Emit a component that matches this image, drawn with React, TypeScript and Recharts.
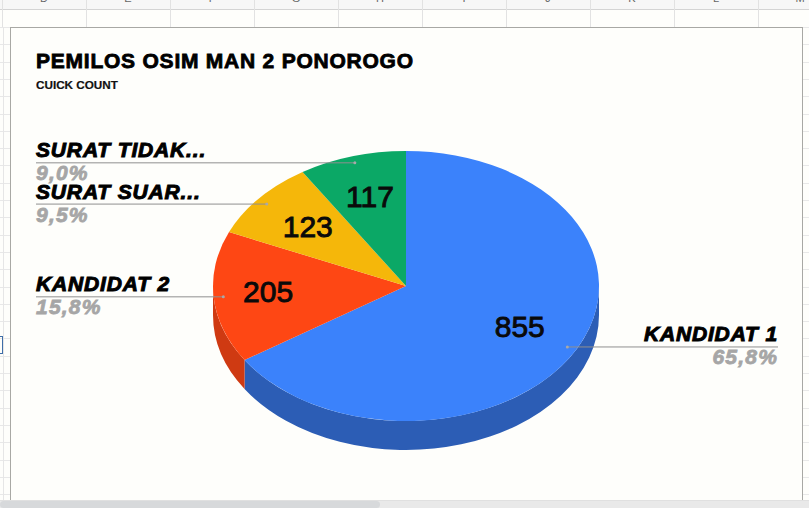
import { PieChart, Pie, Cell } from "recharts";

const names = ["KANDIDAT 1", "KANDIDAT 2", "SURAT SUAR...", "SURAT TIDAK..."];
const votes = [855, 205, 123, 117];
const topColors = ["#3b82fb", "#fe4714", "#f5b70a", "#0ba866"];
const sideColors = ["#2c5db5", "#cf3a12", "#b98a08", "#087f4d"];
const columnLetters = ["D", "E", "F", "G", "H", "I", "J", "K", "L", "M"];

const title = "PEMILOS OSIM MAN 2 PONOROGO";
const subtitle = "CUICK COUNT";

const total = votes.reduce((a, b) => a + b, 0);
const data = names.map((name, i) => ({ name, value: votes[i] }));

const FONT = "'Liberation Sans', Arial, sans-serif";
const SQUASH = 135 / 193; // top of the pie is an ellipse
const DEPTH = 29;
const RAD = Math.PI / 180;

function pt(cx: number, cy: number, r: number, deg: number) {
  return [cx + r * Math.cos(deg * RAD), cy - r * SQUASH * Math.sin(deg * RAD)];
}

function TopSlice(props: any) {
  const { cx, cy, outerRadius: r, startAngle, endAngle, fill } = props;
  const [x1, y1] = pt(cx, cy, r, startAngle);
  const [x2, y2] = pt(cx, cy, r, endAngle);
  const large = Math.abs(startAngle - endAngle) > 180 ? 1 : 0;
  const d = `M${cx},${cy} L${x1},${y1} A${r},${r * SQUASH} 0 ${large} 1 ${x2},${y2} Z`;
  return <path d={d} fill={fill} />;
}

// only the part of a slice facing the viewer gets a wall
function SideWall(props: any) {
  const { cx, cy, outerRadius: r, startAngle, endAngle, index } = props;
  const from = Math.min(startAngle, 0);
  const to = Math.max(endAngle, -180);
  if (from <= to) return null;
  const [x1, y1] = pt(cx, cy, r, from);
  const [x2, y2] = pt(cx, cy, r, to);
  const rx = r;
  const ry = r * SQUASH;
  const d = `M${x1},${y1} A${rx},${ry} 0 0 1 ${x2},${y2} L${x2},${y2 + DEPTH} A${rx},${ry} 0 0 0 ${x1},${y1 + DEPTH} Z`;
  return <path d={d} fill={sideColors[index]} />;
}

function SliceLabel(props: any) {
  const { cx, cy, outerRadius: r, midAngle, index, value } = props;
  const [vx, vy] = pt(cx, cy, r * 0.67, midAngle);
  const [dx, dyRaw] = pt(cx, cy, r * 0.95, midAngle);
  const right = index === 0;
  const edge = right ? 778 : 36;
  const pct = ((value / total) * 100).toFixed(1).replace(".", ",") + "%";
  const anchor = right ? "end" : "start";
  // the 205 sits a bit further out than the others, the yellow labels a bit lower
  const nudgeX = index === 1 ? -9 : 0;
  const nudgeY = index === 2 ? 1.5 : 0;
  const dy = dyRaw + nudgeY;
  return (
    <g fontFamily={FONT}>
      <text x={vx + nudgeX} y={vy + 8 + nudgeY} textAnchor="middle" fontSize={30} fill="#0a0a0a" stroke="#0a0a0a" strokeWidth={0.9}>
        {value}
      </text>
      <line x1={edge} y1={dy} x2={dx} y2={dy} stroke="#8f8f8f" strokeWidth={1} />
      <circle cx={dx} cy={dy} r={1.5} fill="#a9a9a9" />
      <text x={edge} y={dy - 5.5} textAnchor={anchor} fontSize={21} fontWeight={700} fontStyle="italic" letterSpacing={0.85} fill="#000" stroke="#000" strokeWidth={1}>
        {names[index]}
      </text>
      <text x={edge} y={dy + 17.5} textAnchor={anchor} fontSize={21} fontWeight={700} fontStyle="italic" letterSpacing={1.2} fill="#a6a6a6" stroke="#a6a6a6" strokeWidth={0.8}>
        {pct}
      </text>
    </g>
  );
}

function SheetGrid() {
  const rows = [];
  for (let y = 27; y < 500; y += 17.3) rows.push(y);
  return (
    <>
      {columnLetters.map((c, i) => (
        <div key={c} style={{ position: "absolute", left: 2 + i * 84, top: -8, width: 84, height: 12, textAlign: "center", fontSize: 11, color: "#666", fontFamily: FONT, lineHeight: "12px" }}>
          {c}
        </div>
      ))}
      <div style={{ position: "absolute", left: 0, top: 9, width: 809, height: 1, background: "#d4d4d4" }} />
      {columnLetters.map((c, i) => (
        <div key={c + "v"} style={{ position: "absolute", left: 2 + i * 84, top: 0, width: 1, height: 27, background: "#e2e2e2" }} />
      ))}
      {rows.map((y) => (
        <div key={y} style={{ position: "absolute", left: 0, top: y, width: 809, height: 1, background: "#e8e8e8" }} />
      ))}
      <div style={{ position: "absolute", left: 3, top: 27, width: 1, height: 473, background: "#e6e6e6" }} />
      <div style={{ position: "absolute", left: 0, top: 336, width: 3, height: 18, borderRight: "1px solid #3f6ea8", borderTop: "1px solid #3f6ea8", borderBottom: "1px solid #3f6ea8", boxSizing: "border-box" }} />
    </>
  );
}

export default function App() {
  return (
    <div style={{ position: "absolute", left: 0, top: 0, width: 809, height: 508, overflow: "hidden", background: "#fefefb" }}>
      <div style={{ position: "absolute", left: 0, top: 0, width: 809, height: 9, background: "#f7f7f7" }} />
      <SheetGrid />
      <div style={{ position: "absolute", left: 10, top: 27, width: 793, height: 480, boxSizing: "border-box", background: "#fefefb", border: "1px solid #a8a8a4", borderBottom: "none" }} />
      <div style={{ position: "absolute", left: 36, top: 49, fontFamily: FONT, fontSize: 21, fontWeight: 700, color: "#000", letterSpacing: 0.77, whiteSpace: "nowrap", WebkitTextStroke: "0.8px #000", lineHeight: "24px" }}>
        {title}
      </div>
      <div style={{ position: "absolute", left: 36, top: 78, fontFamily: FONT, fontSize: 11.7, fontWeight: 700, color: "#111", whiteSpace: "nowrap", WebkitTextStroke: "0.2px #111", lineHeight: "14px" }}>
        {subtitle}
      </div>
      <div style={{ position: "absolute", left: 0, top: 0 }}>
        <PieChart width={809} height={508} margin={{ top: 0, right: 0, bottom: 0, left: 0 }}>
          <Pie data={data} dataKey="value" nameKey="name" cx={406} cy={286} outerRadius={193} startAngle={90} endAngle={-270} stroke="none" paddingAngle={0} isAnimationActive={false} shape={SideWall} />
          <Pie data={data} dataKey="value" nameKey="name" cx={406} cy={286} outerRadius={193} startAngle={90} endAngle={-270} stroke="none" paddingAngle={0} isAnimationActive={false} shape={TopSlice} label={SliceLabel} labelLine={false}>
            {data.map((d, i) => (
              <Cell key={d.name} fill={topColors[i]} />
            ))}
          </Pie>
        </PieChart>
      </div>
      <div style={{ position: "absolute", left: 0, top: 500, width: 809, height: 8, background: "#e9e9e9", borderTop: "1px solid #e0e0e0", boxSizing: "border-box" }} />
      <div style={{ position: "absolute", left: 0, top: 501, width: 380, height: 7, background: "#d7d9db", borderRadius: 4 }} />
    </div>
  );
}
